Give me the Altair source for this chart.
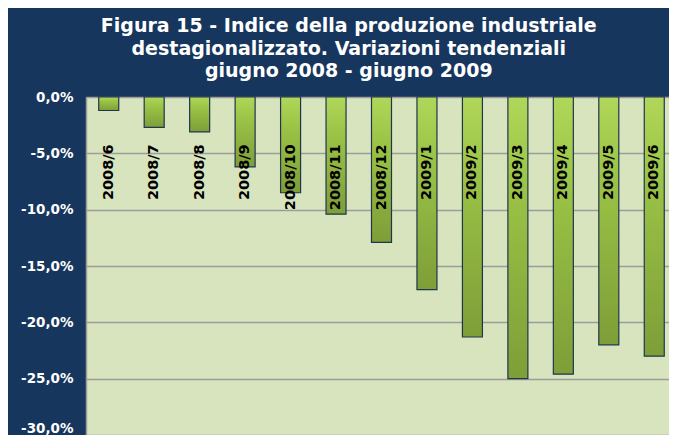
import altair as alt
import pandas as pd

periods = ["2008/6", "2008/7", "2008/8", "2008/9", "2008/10", "2008/11", "2008/12",
           "2009/1", "2009/2", "2009/3", "2009/4", "2009/5", "2009/6"]
values = [-1.2, -2.7, -3.1, -6.2, -8.5, -10.4, -12.9, -17.1, -21.3, -25.0, -24.6, -22.0, -23.0]
y_ticks = [0, -5, -10, -15, -20, -25, -30]
title_lines = ["Figura 15 - Indice della produzione industriale",
               "destagionalizzato. Variazioni tendenziali",
               "giugno 2008 - giugno 2009"]

df = pd.DataFrame({"periodo": periods, "valore": values})

NAVY = "#17365D"

x = alt.X("periodo:N", sort=periods, axis=None,
          scale=alt.Scale(paddingInner=0, paddingOuter=0))
y_scale = alt.Scale(domain=[-30, 0], nice=False, zero=False)

bars = alt.Chart(df).mark_bar(
    size=20,
    stroke="#1F3550",
    strokeWidth=1.2,
    color=alt.Gradient(
        gradient="linear",
        stops=[alt.GradientStop(color="#B0D75A", offset=0),
               alt.GradientStop(color="#9CC446", offset=0.3),
               alt.GradientStop(color="#7E9E38", offset=1)],
        x1=0, x2=0, y1=0, y2=1,
    ),
).encode(
    x=x,
    y=alt.Y("valore:Q", scale=y_scale,
            axis=alt.Axis(values=y_ticks, title=None, tickSize=0, domain=True,
                          domainColor="#9C9C9C", domainWidth=1.5,
                          grid=True, gridColor="#9C9C9C", gridWidth=1.5,
                          labelColor="white", labelFont="DejaVu Sans",
                          labelFontWeight="bold", labelFontSize=13.5, labelPadding=13,
                          labelBaseline={"condition": {"test": "datum.value <= -30", "value": "bottom"},
                                         "value": "middle"},
                          labelExpr="(datum.value < 0 ? '-' : '') + replace(format(abs(datum.value), '.1f'), '.', ',') + '%'")),
    y2=alt.datum(0),
)

labels = alt.Chart(df).mark_text(
    angle=270, align="right", baseline="middle",
    font="DejaVu Sans", fontWeight="bold", fontSize=14.5, color="black",
).encode(
    x=x,
    y=alt.datum(-4.2, scale=y_scale),
    text="periodo:N",
)

chart = alt.layer(bars, labels).properties(
    width=591,
    height=338,
    background=NAVY,
    padding={"left": 78, "top": 89, "right": -8, "bottom": 0},
    autosize=alt.AutoSizeParams(type="none"),
    title=alt.TitleParams(
        text=title_lines, color="white", font="DejaVu Sans",
        fontWeight="bold", fontSize=19, lineHeight=22.5, anchor="middle",
        frame="bounds", offset=9,
    ),
).configure_view(
    fill="#D7E4BD", stroke="#9C9C9C", strokeWidth=1,
)

chart.save("out.html", embed_options={"renderer": "svg", "actions": False})
